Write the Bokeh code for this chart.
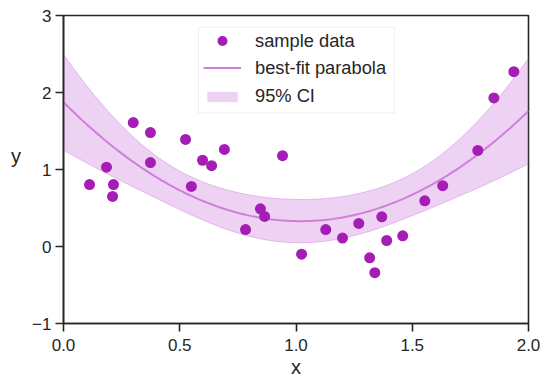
import numpy as np
from bokeh.plotting import figure
from bokeh.models import Legend, LegendItem, FixedTicker, Range1d, BoxAnnotation
from bokeh.embed import file_html
from bokeh.resources import INLINE

# ---- data ----
x_data = [0.112, 0.185, 0.215, 0.211, 0.300, 0.374, 0.374, 0.525, 0.550, 0.598,
          0.637, 0.692, 0.783, 0.847, 0.865, 0.942, 1.024, 1.128, 1.200, 1.270,
          1.369, 1.317, 1.339, 1.390, 1.459, 1.554, 1.631, 1.782, 1.851, 1.937]
y_data = [0.805, 1.030, 0.805, 0.650, 1.610, 1.480, 1.090, 1.390, 0.780, 1.120,
          1.050, 1.260, 0.220, 0.490, 0.390, 1.180, -0.100, 0.220, 0.110, 0.300,
          0.386, -0.147, -0.340, 0.078, 0.139, 0.593, 0.790, 1.247, 1.930, 2.270]
x_ticks = [0.0, 0.5, 1.0, 1.5, 2.0]
x_tick_labels = ["0.0", "0.5", "1.0", "1.5", "2.0"]
y_ticks = [-1, 0, 1, 2, 3]
y_tick_labels = ["\u22121", "0", "1", "2", "3"]
legend_labels = ["sample data", "best-fit parabola", "95% CI"]

# ---- least-squares parabola and 95% confidence band of the mean ----
xa = np.array(x_data)
ya = np.array(y_data)
X = np.vstack([np.ones_like(xa), xa, xa ** 2]).T
beta = np.linalg.lstsq(X, ya, rcond=None)[0]
resid = ya - X @ beta
s2 = resid @ resid / (len(xa) - 3)
cov = s2 * np.linalg.inv(X.T @ X)
xs = np.linspace(0, 2, 201)
Xs = np.vstack([np.ones_like(xs), xs, xs ** 2]).T
yfit = Xs @ beta
se = np.sqrt(np.einsum("ij,jk,ik->i", Xs, cov, Xs))
t95 = 2.052
lo = yfit - t95 * se
hi = yfit + t95 * se

DARK = "#262626"
PT = "#A61DB6"
LINE = "#CF7EDC"
BAND = "#CF7EDC"
FONT = "Liberation Sans"

p = figure(frame_width=465, frame_height=308, x_range=Range1d(0, 2), y_range=Range1d(-1, 3),
           output_backend="svg", toolbar_location=None,
           min_border_left=63, min_border_right=22, min_border_top=15, min_border_bottom=67)
p.grid.visible = False
p.outline_line_color = DARK
p.outline_line_width = 1.6
p.background_fill_color = "white"
p.border_fill_color = "white"

band = p.varea(x=xs, y1=lo, y2=hi, fill_color=BAND, fill_alpha=0.35)
p.line(x=xs, y=lo, line_color=BAND, line_alpha=0.45, line_width=1)
p.line(x=xs, y=hi, line_color=BAND, line_alpha=0.45, line_width=1)
fit = p.line(x=xs, y=yfit, line_color=LINE, line_width=2)
pts = p.scatter(x=x_data, y=y_data, size=11, fill_color=PT, line_color=PT, line_width=0)

for ax, ticks, labels in ((p.xaxis[0], x_ticks, x_tick_labels), (p.yaxis[0], y_ticks, y_tick_labels)):
    ax.ticker = FixedTicker(ticks=ticks)
    ax.major_label_overrides = {tk: lb for tk, lb in zip(ticks, labels)}
    ax.axis_line_color = DARK
    ax.axis_line_width = 1.6
    ax.major_tick_line_color = DARK
    ax.major_tick_line_width = 1.6
    ax.major_tick_out = 8
    ax.major_tick_in = 0
    ax.minor_tick_line_color = None
    ax.major_label_text_font = FONT
    ax.major_label_text_font_size = "17px"
    ax.major_label_text_color = DARK
    ax.axis_label_text_font = FONT
    ax.axis_label_text_font_size = "20px"
    ax.axis_label_text_font_style = "normal"
    ax.axis_label_text_color = DARK

p.xaxis.axis_label = "x"
p.xaxis.major_label_standoff = 7
p.xaxis.axis_label_standoff = 2
# trailing empty line lifts the horizontal "y" a little above the axis middle
p.yaxis.axis_label = "y\n"
p.yaxis.axis_label_orientation = "horizontal"
p.yaxis.major_label_standoff = 4
p.yaxis.axis_label_standoff = 8

# legend frame (drawn as a box in data space behind the legend entries)
p.add_layout(BoxAnnotation(left=0.5806, right=1.4237, top=2.848, bottom=1.736,
                           fill_color="white", fill_alpha=0.85,
                           line_color="#CCCCCC", line_width=1))

common = dict(orientation="vertical", glyph_width=38, padding=0, margin=0, spacing=0,
              label_standoff=14, label_text_font=FONT, label_text_font_size="18.3px",
              label_text_color=DARK, border_line_color=None, background_fill_alpha=0)
p.add_layout(Legend(items=[LegendItem(label=legend_labels[0], renderers=[pts])],
                    location=(140, 270), glyph_height=25, label_height=25, **common))
p.add_layout(Legend(items=[LegendItem(label=legend_labels[1], renderers=[fit])],
                    location=(140, 243), glyph_height=25, label_height=25, **common))
p.add_layout(Legend(items=[LegendItem(label=legend_labels[2], renderers=[band])],
                    location=(140, 216), glyph_height=13, label_height=13, **common))

open("out.html", "w").write(file_html(p, INLINE))
